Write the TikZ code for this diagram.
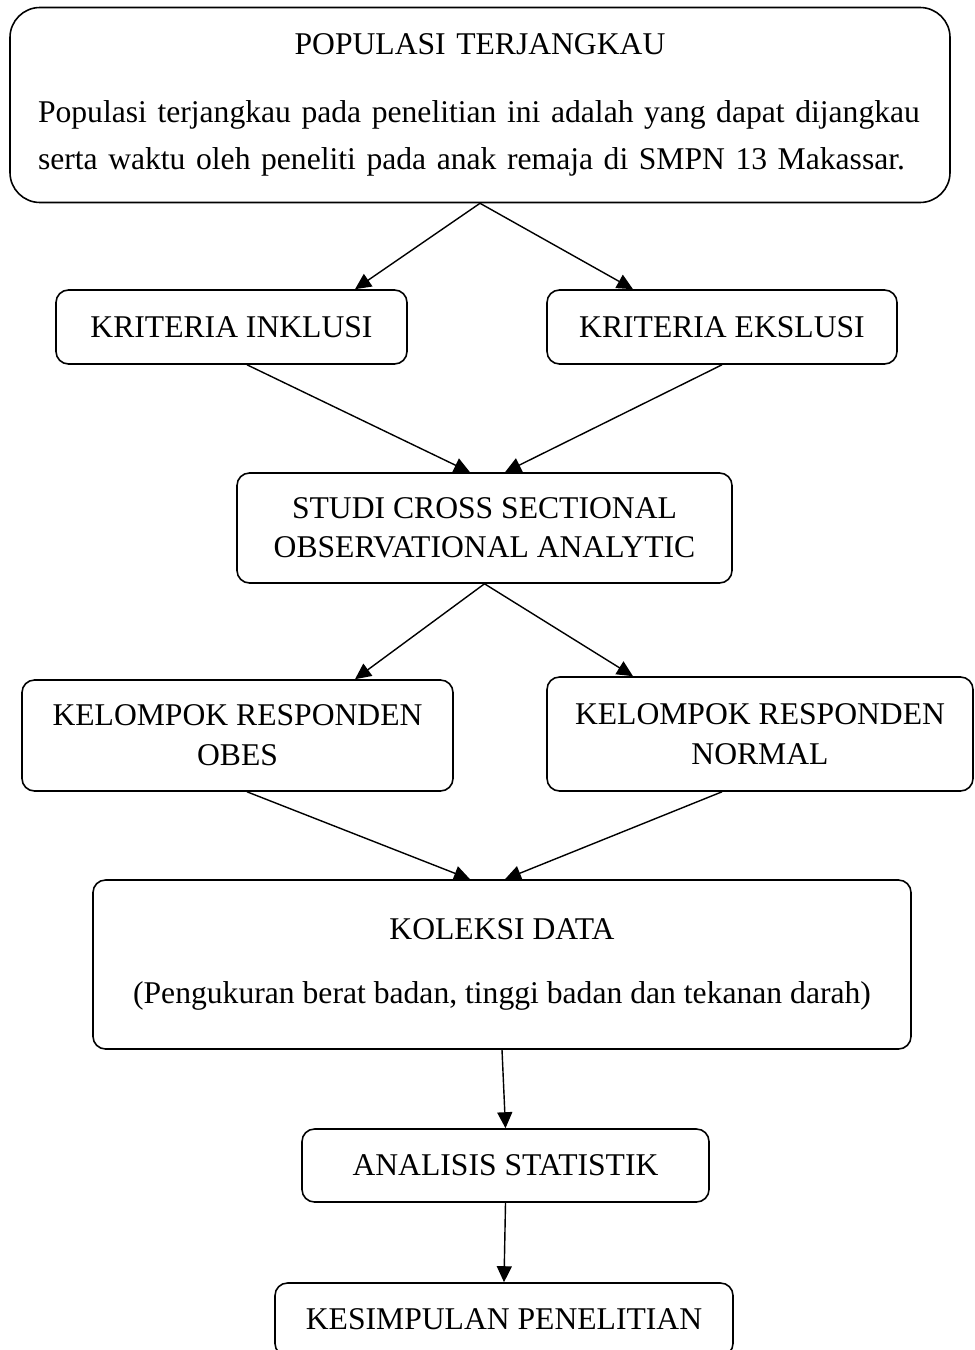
\documentclass[tikz,border=0pt]{standalone}
\usepackage{fontspec}
\setmainfont{Liberation Serif}
\usetikzlibrary{arrows.meta, calc}
\tikzset{
  kotak/.style={rectangle, rounded corners=0.25cm, draw=black, line width=0.9pt, align=center, inner sep=0pt, font=\fontsize{18}{22}\selectfont},
  kotakbesar/.style={kotak, rounded corners=0.6cm},
  panah/.style={line width=0.8pt, -{Triangle[length=0.32cm, width=0.3cm]}}
}

\begin{document}
\begin{tikzpicture}
    \useasboundingbox (0,0) rectangle (19.48,-27);

    % Populasi terjangkau
    \node[kotakbesar, minimum width=18.8cm, minimum height=3.9cm, text width=17.68cm, align=left] (populasi) at (9.6,-2.1)
        {\makebox[\hsize]{POPULASI TERJANGKAU}\\[0.58cm]
         Populasi terjangkau pada penelitian ini adalah yang dapat dijangkau\\[4.5pt]
         serta waktu oleh peneliti pada anak remaja di SMPN 13 Makassar.};

    % Kriteria
    \node[kotak, minimum width=7.02cm, minimum height=1.48cm] (inklusi) at (4.63,-6.54) {KRITERIA INKLUSI};
    \node[kotak, minimum width=7.0cm, minimum height=1.48cm] (eksklusi) at (14.44,-6.54) {KRITERIA EKSLUSI};

    % Studi
    \node[kotak, minimum width=9.9cm, minimum height=2.2cm] (studi) at (9.69,-10.56) {STUDI CROSS SECTIONAL\\OBSERVATIONAL ANALYTIC};

    % Kelompok responden
    \node[kotak, minimum width=8.62cm, minimum height=2.22cm] (obes) at (4.75,-14.71) {KELOMPOK RESPONDEN\\[0.8pt]OBES};
    \node[kotak, minimum width=8.52cm, minimum height=2.28cm] (normal) at (15.2,-14.68) {KELOMPOK RESPONDEN\\[0.8pt]NORMAL};

    % Koleksi data
    \node[kotak, minimum width=16.36cm, minimum height=3.38cm] (koleksi) at (10.04,-19.29)
        {KOLEKSI DATA\\[0.49cm](Pengukuran berat badan, tinggi badan dan tekanan darah)};

    % Analisis dan kesimpulan
    \node[kotak, minimum width=8.14cm, minimum height=1.46cm] (analisis) at (10.11,-23.31) {ANALISIS STATISTIK};
    \node[kotak, minimum width=9.16cm, minimum height=1.46cm] (kesimpulan) at (10.08,-26.39) {KESIMPULAN PENELITIAN};

    % --- PANAH ---
    \draw[panah] (populasi.south) -- ([xshift=2.47cm]inklusi.north);
    \draw[panah] (populasi.south) -- ([xshift=-1.78cm]eksklusi.north);

    \draw[panah] ([xshift=0.31cm]inklusi.south) -- ([xshift=-0.29cm]studi.north);
    \draw[panah] (eksklusi.south) -- ([xshift=0.41cm]studi.north);

    \draw[panah] (studi.south) -- ([xshift=2.35cm]obes.north);
    \draw[panah] (studi.south) -- ([xshift=-2.54cm]normal.north);

    \draw[panah] ([xshift=0.19cm]obes.south) -- ([xshift=-0.64cm]koleksi.north);
    \draw[panah] ([xshift=-0.76cm]normal.south) -- ([xshift=0.06cm]koleksi.north);

    \draw[panah] (koleksi.south) -- (analisis.north);
    \draw[panah] (analisis.south) -- (kesimpulan.north);

\end{tikzpicture}
\end{document}
